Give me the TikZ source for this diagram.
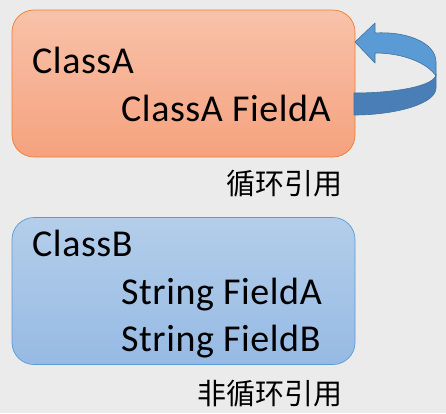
\documentclass[tikz,border=0pt]{standalone}
\usepackage{fontspec}
\setmainfont{Carlito}[LetterSpace=1.5]
\newfontfamily\cjk{Noto Sans CJK SC}
\definecolor{bg}{HTML}{EBEBEB}
\definecolor{orTop}{HTML}{F8C2AA}
\definecolor{orBot}{HTML}{F5A27E}
\definecolor{orLine}{HTML}{ED7D31}
\definecolor{blTop}{HTML}{B4CEEA}
\definecolor{blBot}{HTML}{96BAE4}
\definecolor{blLine}{HTML}{5B9BD5}
\definecolor{arLight}{HTML}{5B9BD5}
\definecolor{arDark}{HTML}{4A7EB7}
\definecolor{arLine}{HTML}{41719C}
\tikzset{
  classbox/.style={rounded corners=22pt, minimum width=343pt, minimum height=147pt, inner sep=0pt, line width=0.7pt},
  boxA/.style={classbox, draw=orLine, top color=orTop, bottom color=orBot},
  boxB/.style={classbox, draw=blLine, top color=blTop, bottom color=blBot},
  txt/.style={inner sep=0pt, anchor=base west, font=\fontsize{38}{38}\selectfont},
  captxt/.style={inner sep=0pt, anchor=base east, font=\cjk\fontsize{29}{29}\selectfont},
  arrowband/.style={draw=arLine, line width=0.6pt, line join=round}
}
\begin{document}
\begin{tikzpicture}[x=1pt,y=-1pt]
\useasboundingbox[fill=bg] (0,0) rectangle (446,413);
\node[boxA] (A) at (183.5,83.5) {};
\node[boxB] (B) at (183.5,291) {};
\node[txt] (a1) at (32,73) {ClassA};
\node[txt] (a2) at (121,121) {ClassA FieldA};
\node[captxt] (ca) at (343,194) {循环引用};
\node[txt] (b1) at (32,256) {ClassB};
\node[txt] (b2) at (121,304) {String FieldA};
\node[txt] (b3) at (121,351) {String FieldB};
\node[captxt] (cb) at (343,404) {非循环引用};
% self-reference curved arrow
\fill[arrowband, fill=arLight] (355,42) -- (375,23) -- (375,33)
  .. controls (405,31) and (436,42) .. (436,62) -- (436,76)
  .. controls (428,64) and (405,53) .. (375,53) -- (375,63) -- cycle;
\fill[arrowband, fill=arDark] (354,93) .. controls (395,93) and (436,86) .. (436,74)
  -- (436,88) .. controls (436,104) and (395,115) .. (354,115) -- cycle;
\end{tikzpicture}
\end{document}
